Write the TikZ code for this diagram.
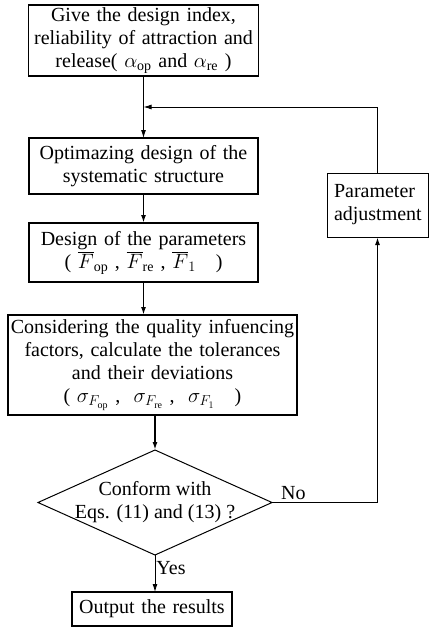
\documentclass[tikz,border=0pt]{standalone}
\usepackage{fontspec}
\setmainfont{Liberation Serif}
\usetikzlibrary{arrows.meta,positioning,shapes.geometric}

\begin{document}
\begin{tikzpicture}[x=1pt,y=-1pt,
 box/.style={draw,line width=1.6pt,align=center,inner sep=2pt,outer sep=0pt,
 font=\fontsize{20}{23}\selectfont},
 cond/.style={draw,diamond,line width=1pt,aspect=2.23,inner sep=-14pt,outer sep=0pt,
 minimum width=234pt,minimum height=105pt,align=center,
 font=\fontsize{20}{23}\selectfont},
 lbl/.style={inner sep=1pt,font=\fontsize{20}{23}\selectfont},
 link/.style={line width=.9pt},boldlink/.style={line width=1.6pt},
 >={Latex[length=8pt,width=5pt]}]
\useasboundingbox (0,0) rectangle (429,630);
\node[box,text width=226pt,minimum height=71pt] (a) at (143.5,40.5) {Give the design index,\\reliability of attraction and\\release( $\alpha_{\mathrm{op}}$ and $\alpha_{\mathrm{re}}$ )};
\node[box,text width=225pt,minimum height=56pt,below=62pt of a] (b) {Optimazing design of the\\systematic structure};
\node[box,text width=225pt,minimum height=59pt,below=29pt of b] (c) {Design of the parameters\\( $\overline{F}_{\mathrm{op}}$ , $\overline{F}_{\mathrm{re}}$ , $\overline{F}_{1}$ \ \ )};
\node[box,text width=285pt,minimum height=100pt,below=33pt of c,xshift=9pt] (d) {Considering the quality infuencing\\factors, calculate the tolerances\\and their deviations\\( $\sigma_{F_{\mathrm{op}}}$ ,\ \ $\sigma_{F_{\mathrm{re}}}$ ,\ \ $\sigma_{F_1}$ \ \ )};
\node[cond,below=35pt of d,xshift=2.5pt] (e) {Conform with\\Eqs. (11) and (13) ?};
\node[box,line width=1.2pt,text width=156pt,minimum height=34pt,below=37pt of e,xshift=-3pt] (f) {Output the results};
\node[box,line width=1pt,align=left,text width=87pt,inner xsep=7pt,minimum height=64pt] (g) at (377.5,205) {Parameter\\adjustment};
\coordinate[below=31pt of a.south] (j);
\node[lbl,above right=2pt and 8pt of e.east] (no) {No};
% main line
\draw[->,link] (a)--(b);
\draw[->,boldlink] (b)--(c);
\draw[->,boldlink] (c.south)--(c.south |- d.north);
\draw[->,boldlink] (e.north |- d.south)--(e.north);
\draw[->,link] (e.south)--node[lbl,right,pos=.35] (yes) {Yes} (e.south |- f.north);
% feedback loop
\draw[->,boldlink] (e.east)-|(g.south);
\draw[->,link] (g.north)|-(j);
\end{tikzpicture}
\end{document}
